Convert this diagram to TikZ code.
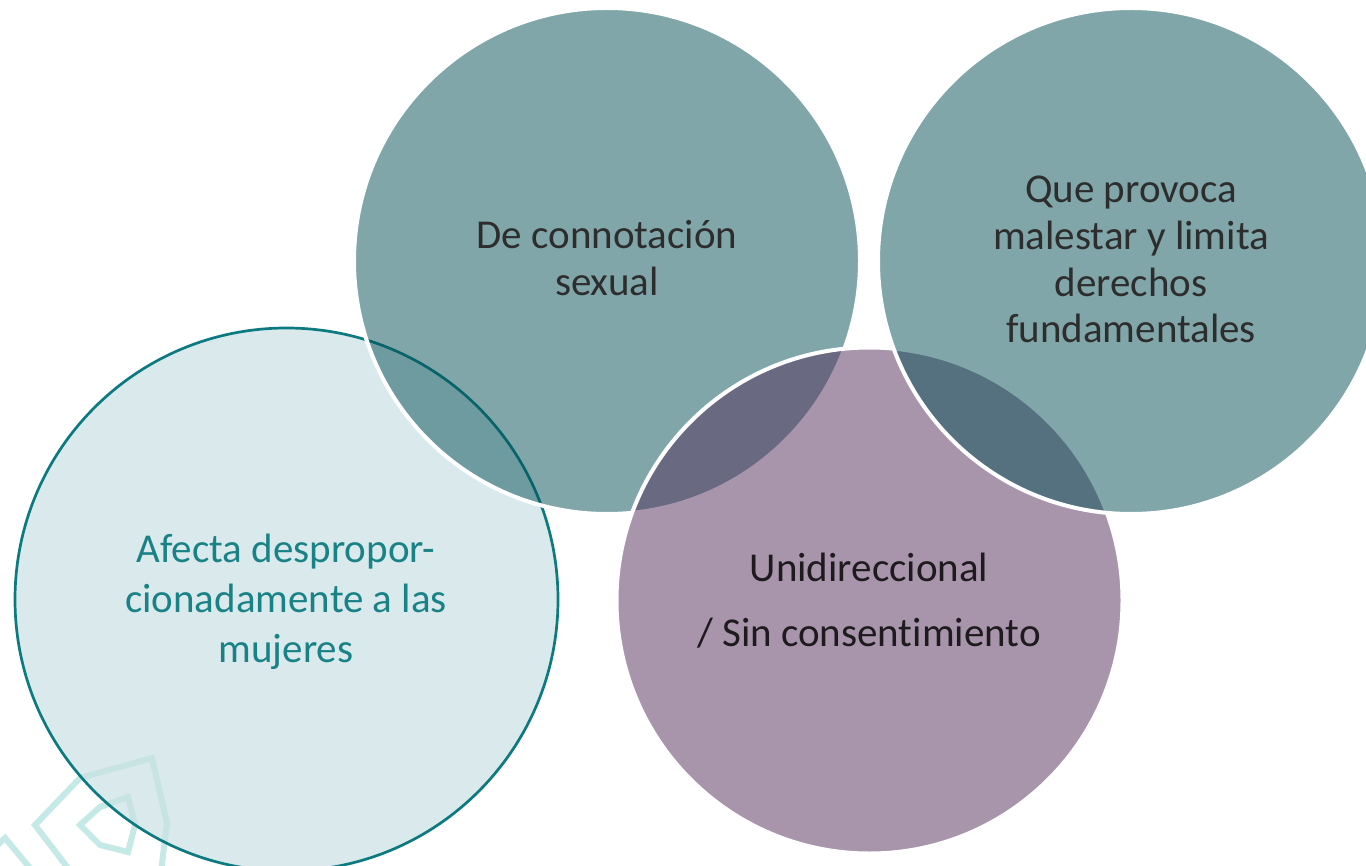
\documentclass[tikz,border=0pt]{standalone}
\usepackage{fontspec}
\setmainfont{Carlito}[Ligatures={NoCommon}]
\definecolor{topteal}{RGB}{3,79,85}
\definecolor{purp}{RGB}{83,45,91}
\definecolor{lightc}{RGB}{201,225,228}
\definecolor{edgeteal}{RGB}{12,122,128}
\definecolor{chev}{RGB}{197,233,230}
\definecolor{txtdark}{RGB}{45,45,45}
\definecolor{txtteal}{RGB}{24,130,134}
\definecolor{txtpurp}{RGB}{30,26,30}
\begin{document}
\begin{tikzpicture}[x=0.5pt,y=-0.5pt,
  bub/.style={circle, inner sep=0pt, outer sep=0pt, minimum size=253pt,
    fill opacity=0.5, draw=white, line width=2pt},
  tealbub/.style={bub, fill=topteal},
  purpbub/.style={bub, fill=purp},
  leftbub/.style={circle, inner sep=0pt, outer sep=0pt, minimum size=271.5pt,
    fill=lightc, fill opacity=0.7, draw=edgeteal, line width=1.35pt},
  chevline/.style={draw=chev, line width=3pt, line join=miter},
  lbl/.style={anchor=base, inner sep=0pt, font=\fontsize{20.5}{24}\selectfont}
]
\useasboundingbox (0,0) rectangle (1366,866);
\fill[white] (0,0) rectangle (1366,866);
\clip (0,0) rectangle (1366,866);
% decoration
\draw[chevline] (77,880) -- (35,825) -- (80,778) -- (152,758) -- (167,823) -- (160,880);
\draw[chevline] (80,825) -- (100,807) -- (128,797) -- (135,825) -- (128,852) -- (100,845) -- cycle;
\draw[chevline] (-10,852) -- (5,838) -- (40,880);
% circles
\node[leftbub] (cleft) at (286.5,599.5) {};
\node[tealbub] (ctop) at (607,261) {};
\node[purpbub] (cpurp) at (869.5,600.5) {};
\node[tealbub] (cright) at (1131,261) {};
% texts
\node[lbl, text=txtdark] (t1a) at (607,249) {De connotación};
\node[lbl, text=txtdark] (t1b) at (607,296) {sexual};
\node[lbl, text=txtdark] (t2a) at (1131,203) {Que provoca};
\node[lbl, text=txtdark] (t2b) at (1131,250) {malestar y limita};
\node[lbl, text=txtdark] (t2c) at (1131,297) {derechos};
\node[lbl, text=txtdark] (t2d) at (1131,343) {fundamentales};
\node[lbl, text=txtpurp] (t3a) at (869,581) {Unidireccional};
\node[lbl, text=txtpurp] (t3b) at (869,646) {/ Sin consentimiento};
\node[lbl, text=txtteal] (t4a) at (286,562) {Afecta despropor-};
\node[lbl, text=txtteal] (t4b) at (286,612) {cionadamente a las};
\node[lbl, text=txtteal] (t4c) at (286,662) {mujeres};
\end{tikzpicture}
\end{document}
